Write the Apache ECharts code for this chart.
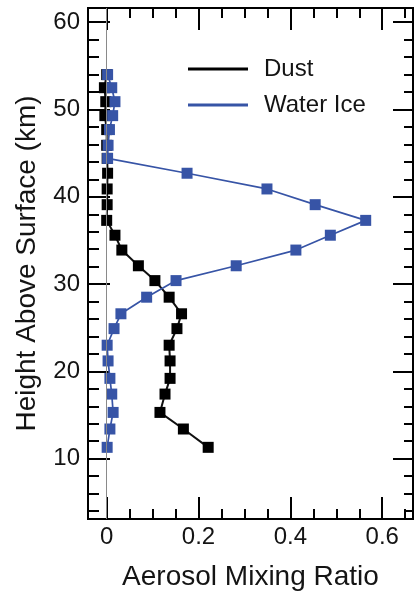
<!DOCTYPE html>
<html>
<head>
<meta charset="utf-8">
<script src="https://cdn.jsdelivr.net/npm/echarts@6/dist/echarts.min.js"></script>
<style>
  html, body { margin: 0; padding: 0; background: #fff; }
  #chart { width: 417px; height: 594px; }
</style>
</head>
<body>
<div id="chart"></div>
<script>
// Aerosol profiles: height above surface (km) and mixing ratio per species
const heights = [11.3, 13.4, 15.3, 17.4, 19.2, 21.2, 23.0, 24.9, 26.6, 28.5, 30.4, 32.1, 33.9,
                 35.6, 37.3, 39.1, 40.9, 42.7, 44.4, 45.9, 47.7, 49.3, 50.9, 52.5, 54.0];
const dustRatio = [0.221, 0.167, 0.116, 0.127, 0.138, 0.138, 0.136, 0.153, 0.163, 0.136, 0.105, 0.069, 0.033,
                   0.018, 0.000, 0.001, 0.001, 0.002, 0.001, 0.000, 0.000, -0.004, -0.002, -0.005, 0.000];
const iceRatio = [0.001, 0.007, 0.014, 0.011, 0.007, 0.003, 0.001, 0.016, 0.031, 0.087, 0.151, 0.282, 0.412,
                  0.487, 0.564, 0.454, 0.349, 0.175, 0.002, 0.003, 0.006, 0.013, 0.018, 0.011, 0.002];

const xMajorTicks = [0, 0.2, 0.4, 0.6];
const xMinorTicks = [0.05, 0.1, 0.15, 0.25, 0.3, 0.35, 0.45, 0.5, 0.55, 0.65];
const yMajorTicks = [10, 20, 30, 40, 50, 60];
const yMinorTicks = [4, 6, 8, 12, 14, 16, 18, 22, 24, 26, 28, 32, 34, 36, 38, 42, 44, 46, 48, 52, 54, 56, 58];

const X_RANGE = [-0.0407, 0.667];
const Y_RANGE = [3.09, 61.63];

const FONT = 'Liberation Sans';
const INK = '#141414';
const ICE_BLUE = '#3754a6';

function axis(kind, position, ticks, tickLen, withLabels, extra) {
  const range = kind === 'x' ? X_RANGE : Y_RANGE;
  return Object.assign({
    type: 'value',
    position: position,
    min: range[0],
    max: range[1],
    axisLine: { show: true, onZero: false, lineStyle: { color: '#000', width: 2 } },
    axisTick: { show: true, inside: true, length: tickLen, customValues: ticks,
                lineStyle: { color: '#000', width: 2 } },
    axisLabel: withLabels
      ? { show: true, customValues: ticks, fontFamily: FONT, fontSize: 24, color: INK,
          margin: kind === 'x' ? 6 : 8, formatter: v => String(v) }
      : { show: false },
    splitLine: { show: false }
  }, extra || {});
}

const dustPoints = heights.map((h, i) => [dustRatio[i], h]);
const icePoints = heights.map((h, i) => [iceRatio[i], h]);

const chart = echarts.init(document.getElementById('chart'), null, { renderer: 'canvas' });
chart.setOption({
  animation: false,
  backgroundColor: '#fff',
  grid: { left: 88, right: 4, top: 8, bottom: 75, containLabel: false, outerBoundsMode: 'none' },
  legend: {
    data: ['Dust', 'Water Ice'],
    orient: 'vertical',
    left: 188,
    top: 57,
    padding: 0,
    icon: 'rect',
    itemWidth: 60,
    itemHeight: 3,
    itemGap: 12,
    textStyle: { fontFamily: FONT, fontSize: 24, color: INK, padding: [0, 0, 0, 11] }
  },
  xAxis: [
    axis('x', 'bottom', xMajorTicks, 22, true, {
      name: 'Aerosol Mixing Ratio', nameLocation: 'middle', nameGap: 44,
      nameTextStyle: { fontFamily: FONT, fontSize: 28, color: INK }
    }),
    axis('x', 'bottom', xMinorTicks, 10, false),
    axis('x', 'top', xMajorTicks, 22, false),
    axis('x', 'top', xMinorTicks, 10, false)
  ],
  yAxis: [
    axis('y', 'left', yMajorTicks, 22, true, {
      name: 'Height Above Surface (km)', nameLocation: 'middle', nameGap: 47,
      nameTextStyle: { fontFamily: FONT, fontSize: 28, color: INK }
    }),
    axis('y', 'left', yMinorTicks, 11, false),
    axis('y', 'right', yMajorTicks, 20, false),
    axis('y', 'right', yMinorTicks, 9, false)
  ],
  series: [
    {
      name: 'zero',
      type: 'line',
      data: [],
      z: 1,
      silent: true,
      markLine: {
        silent: true,
        symbol: ['none', 'none'],
        label: { show: false },
        lineStyle: { color: '#8a8a8a', width: 1, type: 'solid' },
        data: [{ xAxis: 0 }]
      }
    },
    {
      name: 'Dust',
      type: 'line',
      data: dustPoints,
      z: 3,
      color: '#000',
      symbol: 'rect',
      symbolSize: 11,
      lineStyle: { color: '#111', width: 2 },
      itemStyle: { color: '#000' }
    },
    {
      name: 'Water Ice',
      type: 'line',
      data: icePoints,
      z: 4,
      color: ICE_BLUE,
      symbol: 'rect',
      symbolSize: 11,
      lineStyle: { color: ICE_BLUE, width: 1.7 },
      itemStyle: { color: ICE_BLUE }
    }
  ]
});
</script>
</body>
</html>
